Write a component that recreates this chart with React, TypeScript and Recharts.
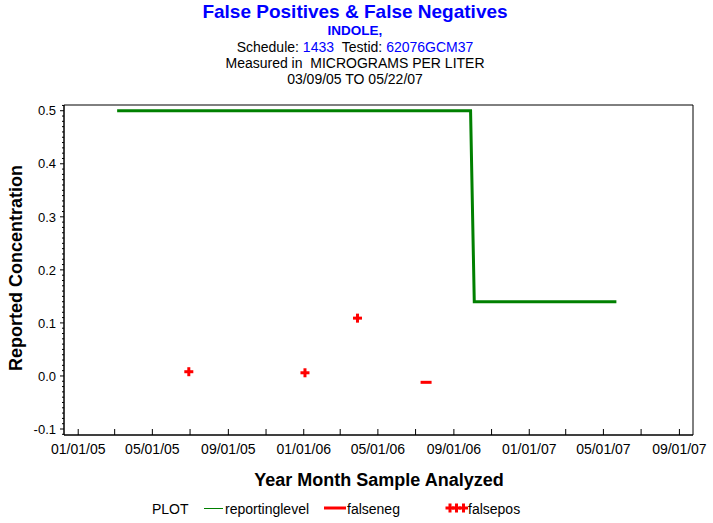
import React from 'react';
import { ComposedChart, Line, Scatter, XAxis, YAxis, ReferenceArea } from 'recharts';

const FONT = '"Liberation Sans", Arial, Helvetica, sans-serif';

// ---------- data ----------
const reportingDates = ['03/05/05', '09/28/06', '10/04/06', '05/22/07'];
const reportingValues = [0.5, 0.5, 0.14, 0.14];

const falseposDates = ['06/29/05', '01/03/06', '03/29/06'];
const falseposValues = [0.008, 0.006, 0.109];

const falsenegDates = ['07/18/06'];
const falsenegValues = [-0.012];

const xTickLabels = [
  '01/01/05', '03/01/05', '05/01/05', '07/01/05', '09/01/05', '11/01/05',
  '01/01/06', '03/01/06', '05/01/06', '07/01/06', '09/01/06', '11/01/06',
  '01/01/07', '03/01/07', '05/01/07', '07/01/07', '09/01/07',
];
const yMajorTicks = [-0.1, 0.0, 0.1, 0.2, 0.3, 0.4, 0.5];

const xDomainDates = ['12/09/04', '09/23/07'];
const yDomain: [number, number] = [-0.1113, 0.5108];

// ---------- helpers ----------
const toT = (s: string) => {
  const [m, d, y] = s.split('/').map(Number);
  return Date.UTC(2000 + y, m - 1, d);
};
const fromT = (t: number) => {
  const dt = new Date(t);
  const p = (n: number) => String(n).padStart(2, '0');
  return `${p(dt.getUTCMonth() + 1)}/${p(dt.getUTCDate())}/${p(dt.getUTCFullYear() % 100)}`;
};

const reportingData = reportingDates.map((d, i) => ({ t: toT(d), v: reportingValues[i] }));
const falseposData = falseposDates.map((d, i) => ({ t: toT(d), v: falseposValues[i] }));
const falsenegData = falsenegDates.map((d, i) => ({ t: toT(d), v: falsenegValues[i] }));

const xTicks = xTickLabels.map(toT);
const labeledX = new Set(xTickLabels.filter((_, i) => i % 2 === 0));
const xDomain: [number, number] = [toT(xDomainDates[0]), toT(xDomainDates[1])];

// minor y ticks every 0.01
const yTicks: number[] = [];
for (let k = Math.ceil(yDomain[0] * 100); k <= Math.floor(yDomain[1] * 100); k++) {
  yTicks.push(k / 100);
}
const isMajorY = (v: number) => yMajorTicks.some((m) => Math.abs(m - v) < 1e-6);

const NB = '\u00a0';

// ---------- custom ticks / shapes ----------
const XTick = (props: any) => {
  const { x, y, payload } = props;
  const label = fromT(payload.value);
  return (
    <g>
      <line x1={x} x2={x} y1={y} y2={y - 6} stroke="#000" strokeWidth={1} />
      {labeledX.has(label) && (
        <text x={x} y={y + 19} textAnchor="middle" fontSize={14} fontFamily={FONT} fill="#000">
          {label}
        </text>
      )}
    </g>
  );
};

const YTick = (props: any) => {
  const { x, y, payload } = props;
  const v = payload.value as number;
  const major = isMajorY(v);
  return (
    <g>
      <line x1={x} x2={x - (major ? 4 : 2)} y1={y} y2={y} stroke="#000" strokeWidth={1} />
      {major && (
        <text x={x - 8} y={y} dy="0.36em" textAnchor="end" fontSize={13} fontFamily={FONT} fill="#000">
          {v.toFixed(1)}
        </text>
      )}
    </g>
  );
};

const PlusShape = (props: any) => {
  const { cx, cy } = props;
  return (
    <g>
      <rect x={cx - 4.5} y={cy - 1.5} width={9} height={3} fill="#ff0000" />
      <rect x={cx - 1.5} y={cy - 4.5} width={3} height={9} fill="#ff0000" />
    </g>
  );
};

const MinusShape = (props: any) => {
  const { cx, cy } = props;
  return <rect x={cx - 5.5} y={cy - 1.5} width={11} height={3} fill="#ff0000" />;
};

export default function App() {
  return (
    <div
      style={{
        position: 'absolute',
        left: 0,
        top: 0,
        width: 713,
        height: 523,
        background: '#fff',
        fontFamily: FONT,
      }}
    >
      <ComposedChart width={713} height={523} margin={{ top: 105, right: 20, bottom: 0, left: 0 }}>
        <XAxis
          type="number"
          dataKey="t"
          domain={xDomain}
          allowDataOverflow
          ticks={xTicks}
          interval={0}
          tickSize={0}
          tickMargin={0}
          tickLine={false}
          tick={XTick}
          height={88}
          axisLine={{ stroke: '#000' }}
        />
        <YAxis
          type="number"
          dataKey="v"
          domain={yDomain}
          allowDataOverflow
          ticks={yTicks}
          interval={0}
          tickSize={0}
          tickMargin={0}
          tickLine={false}
          tick={YTick}
          width={64}
          axisLine={{ stroke: '#000' }}
        />
        <ReferenceArea
          x1={xDomain[0]}
          x2={xDomain[1]}
          y1={yDomain[0]}
          y2={yDomain[1]}
          fill="none"
          fillOpacity={0}
          stroke="#000"
          strokeWidth={1}
          ifOverflow="visible"
        />
        <Line
          data={reportingData}
          dataKey="v"
          type="linear"
          stroke="#008000"
          strokeWidth={3}
          dot={false}
          activeDot={false}
          isAnimationActive={false}
        />
        <Scatter data={falseposData} dataKey="v" shape={PlusShape} fill="#ff0000" isAnimationActive={false} />
        <Scatter data={falsenegData} dataKey="v" shape={MinusShape} fill="#ff0000" isAnimationActive={false} />
      </ComposedChart>

      <svg
        width={713}
        height={523}
        style={{ position: 'absolute', left: 0, top: 0, pointerEvents: 'none' }}
      >
        <g fontFamily={FONT} textAnchor="middle">
          <text x={355} y={18} fontSize={19} fontWeight="bold" fill="#0000ff">
            False Positives &amp; False Negatives
          </text>
          <text x={355} y={35} fontSize={13.5} fontWeight="bold" fill="#0000ff">
            INDOLE,
          </text>
          <text x={355} y={52} fontSize={14} fill="#000">
            <tspan>{'Schedule:' + NB}</tspan>
            <tspan fill="#0000ff">1433</tspan>
            <tspan>{NB + NB + 'Testid:' + NB}</tspan>
            <tspan fill="#0000ff">62076GCM37</tspan>
          </text>
          <text x={355} y={68} fontSize={14} fill="#000">
            {'Measured in' + NB + NB + 'MICROGRAMS PER LITER'}
          </text>
          <text x={355} y={84} fontSize={14} fill="#000">
            03/09/05 TO 05/22/07
          </text>
          <text x={379} y={486} fontSize={18} fontWeight="bold" fill="#000">
            Year Month Sample Analyzed
          </text>
          <text x={22} y={268} fontSize={18} fontWeight="bold" fill="#000" transform="rotate(-90 22 268)">
            Reported Concentration
          </text>
        </g>
        <g fontFamily={FONT} fontSize={14} fill="#000">
          <text x={152} y={513.5}>PLOT</text>
          <line x1={204} x2={223} y1={508.5} y2={508.5} stroke="#008000" strokeWidth={1} />
          <text x={225} y={513.5}>reportinglevel</text>
          <line x1={324} x2={346} y1={508} y2={508} stroke="#ff0000" strokeWidth={3} />
          <text x={347} y={513.5}>falseneg</text>
          <PlusShape cx={450} cy={508} />
          <PlusShape cx={456.5} cy={508} />
          <PlusShape cx={463.5} cy={508} />
          <text x={468} y={513.5}>falsepos</text>
        </g>
      </svg>
    </div>
  );
}
